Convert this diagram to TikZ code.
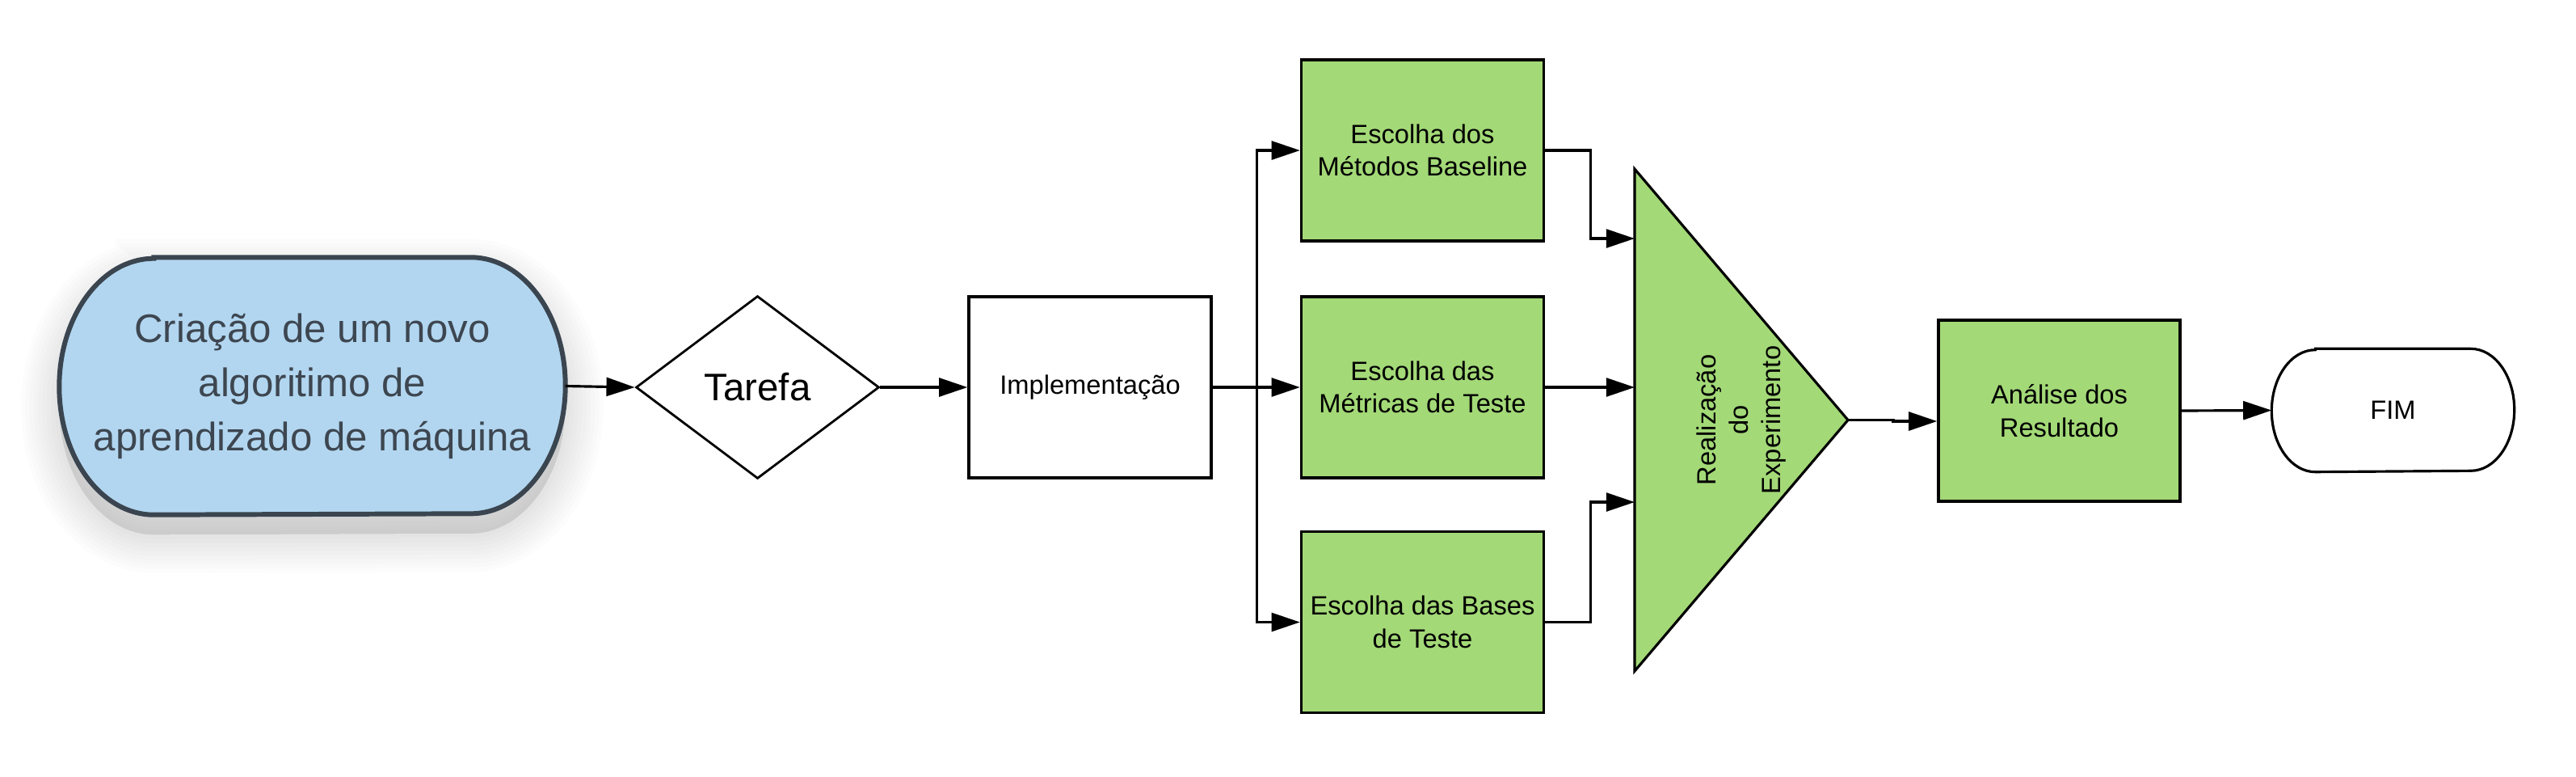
\documentclass[tikz,border=0pt]{standalone}
\usepackage{fontspec}
\setmainfont{Liberation Sans}
\usetikzlibrary{shapes.geometric,arrows.meta,backgrounds}
\definecolor{startblue}{HTML}{B2D6F0}
\definecolor{startline}{HTML}{3A4550}
\definecolor{starttext}{HTML}{3D4650}
\definecolor{stepgreen}{HTML}{A3D977}
% outline of a terminal: node name, side radius, half height
\newcommand{\termshape}[3]{([xshift=#2]#1.north west) -- ([xshift=-#2]#1.north east)
  arc[start angle=90,end angle=-90,x radius=#2,y radius=#3]
  -- ([xshift=#2]#1.south west)
  arc[start angle=270,end angle=90,x radius=#2,y radius=#3] -- cycle}
\begin{document}
\begin{tikzpicture}[
  smalltext/.style={font=\fontsize{9.3}{11.5}\selectfont},
  box/.style={draw=black,line width=0.95pt,minimum width=3cm,minimum height=2.24cm,
    align=center,inner sep=2pt,smalltext},
  greenbox/.style={box,fill=stepgreen},
  flow/.style={line width=0.9pt,-{Triangle[length=10pt,width=6.5pt]}},
]
\useasboundingbox (0,0) rectangle (31.88,9.6);

% Start
\node[minimum width=6.25cm,minimum height=3.17cm,inner sep=0,align=center,text=starttext,
  font=\fontsize{14}{19}\selectfont] (start) at (3.865,4.825)
  {Criação de um novo\\algoritimo de\\aprendizado de máquina};

% Task and implementation
\node[diamond,draw=black,line width=0.8pt,minimum width=3.01cm,minimum height=2.26cm,
  inner sep=0,font=\fontsize{13.5}{16}\selectfont] (tarefa) at (9.375,4.81) {Tarefa};
\node[box] (impl) at (13.49,4.81) {Implementação};

% Choices
\node[greenbox] (metodos) at (17.605,7.74) {Escolha dos\\Métodos Baseline};
\node[greenbox] (metricas) at (17.605,4.81) {Escolha das\\Métricas de Teste};
\node[greenbox] (bases) at (17.605,1.905) {Escolha das Bases\\de Teste};

% Experiment (rotated frame: north = left edge, south = tip)
\node[minimum width=6.21cm,minimum height=2.64cm,inner sep=0,outer sep=0,
  rotate=90,align=center,smalltext] (exp) at (21.55,4.405)
  {Realização\\do\\Experimento};

% Analysis and end
\node[greenbox,minimum width=2.99cm] (analise) at (25.485,4.52) {Análise dos\\Resultado};
\node[minimum width=2.99cm,minimum height=1.51cm,inner sep=0,smalltext] (fim) at (29.615,4.525) {FIM};

% Outlines and shadow
\begin{scope}[on background layer]
  \foreach \w in {3,6,...,27} {
    \fill[draw=black,line width=\w pt,opacity=0.012,transform canvas={yshift=-7pt}]
      \termshape{start}{1.17cm}{1.585cm};
  }
  \filldraw[fill=startblue,draw=startline,line width=1.7pt] \termshape{start}{1.17cm}{1.585cm};
  \filldraw[fill=white,draw=black,line width=0.9pt] \termshape{fim}{0.54cm}{0.755cm};
  \filldraw[fill=stepgreen,draw=black,line width=0.9pt]
    (exp.north east) -- (exp.south) -- (exp.north west) -- cycle;
\end{scope}

% Connectors
\draw[flow] (start.east) -- (tarefa.west);
\draw[flow] (tarefa.east) -- (impl.west);
\draw[flow] (impl.east) -- (metricas.west);
\draw[flow] (impl.east) -- ++(0.55,0) |- (metodos.west);
\draw[flow] (impl.east) -- ++(0.55,0) |- (bases.west);
\draw[flow] (metodos.east) -- ++(0.56,0) |- ([yshift=2.245cm]exp.north);
\draw[flow] (metricas.east) -- (metricas.east -| exp.north);
\draw[flow] (bases.east) -- ++(0.56,0) |- ([yshift=-1.015cm]exp.north);
\draw[flow] (exp.south) -- ++(0.56,0) |- ([yshift=-0.13cm]analise.west);
\draw[flow] (analise.east) -- (fim.west);
\end{tikzpicture}
\end{document}
